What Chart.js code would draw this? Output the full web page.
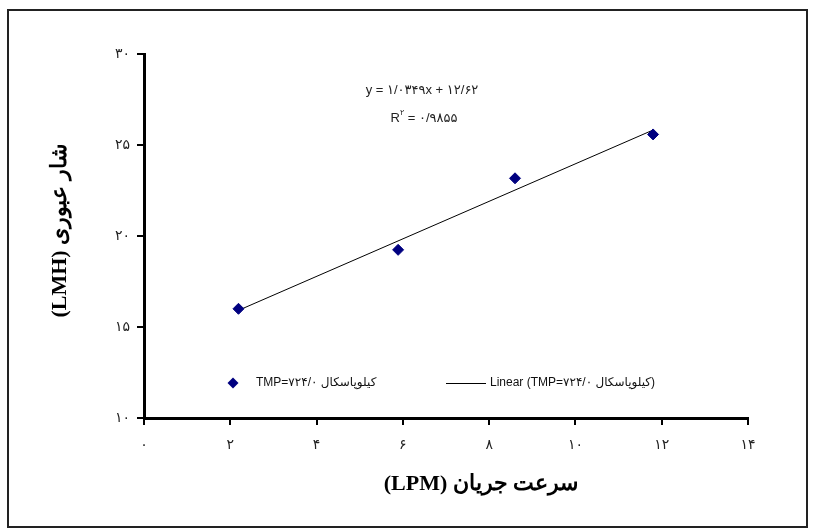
<!DOCTYPE html>
<html>
<head>
<meta charset="utf-8">
<script src="https://cdn.jsdelivr.net/npm/chart.js@4/dist/chart.umd.min.js"></script>
<style>
    html, body { margin: 0; padding: 0; background: #fff; }
    #wrap { width: 815px; height: 529px; position: relative; }
</style>
</head>
<body>
<div id="wrap"><canvas id="fluxChart"></canvas></div>
<script>
// data
const flowRate = [2.19, 5.89, 8.60, 11.80];      // LPM
const flux = [16.0, 19.24, 23.17, 25.58];        // LMH
const xTickLabels = ['۰', '۲', '۴', '۶', '۸', '۱۰', '۱۲', '۱۴'];
const yTickLabels = ['۱۰', '۱۵', '۲۰', '۲۵', '۳۰'];
const xTitle = 'سرعت جریان (LPM)';
const yTitle = 'شار عبوری (LMH)';
const seriesName = 'TMP=۷۲۴/۰ کیلوپاسکال';
const trendName = 'Linear (TMP=۷۲۴/۰ کیلوپاسکال)';
const equationText = 'y = ۱/۰۳۴۹x + ۱۲/۶۲';
const rSquaredText = '۰/۹۸۵۵';

const markerColor = '#000080';

// least squares trend through the points
function linearFit(xs, ys) {
    const n = xs.length;
    const mx = xs.reduce((a, b) => a + b, 0) / n;
    const my = ys.reduce((a, b) => a + b, 0) / n;
    let sxy = 0, sxx = 0;
    xs.forEach((x, i) => {
        sxy += (x - mx) * (ys[i] - my);
        sxx += (x - mx) * (x - mx);
    });
    const slope = sxy / sxx;
    return { slope: slope, intercept: my - slope * mx };
}

const fit = linearFit(flowRate, flux);
const xMin = Math.min(...flowRate);
const xMax = Math.max(...flowRate);
const trendPoints = [
    { x: xMin, y: fit.intercept + fit.slope * xMin },
    { x: xMax, y: fit.intercept + fit.slope * xMax }
];

// frame, equation, legend and axis titles
const decorPlugin = {
    id: 'decor',
    afterDraw(chart) {
        const ctx = chart.ctx;
        ctx.save();

        // outer frame
        ctx.strokeStyle = '#222';
        ctx.lineWidth = 2;
        ctx.strokeRect(8, 10, 799, 517);

        // equation + R²
        ctx.fillStyle = '#222';
        ctx.direction = 'ltr';
        ctx.textBaseline = 'middle';
        ctx.textAlign = 'center';
        ctx.font = '13px "Liberation Sans", "DejaVu Sans", sans-serif';
        ctx.fillText(equationText, 422, 90);

        const rest = ' = ' + rSquaredText;
        const wR = ctx.measureText('R').width;
        const wRest = ctx.measureText(rest).width;
        ctx.font = '8px "Liberation Sans", "DejaVu Sans", sans-serif';
        const wSup = ctx.measureText('۲').width;
        let x0 = 424 - (wR + wSup + wRest) / 2;
        ctx.textAlign = 'left';
        ctx.font = '13px "Liberation Sans", "DejaVu Sans", sans-serif';
        ctx.fillText('R', x0, 118);
        ctx.font = '8px "Liberation Sans", "DejaVu Sans", sans-serif';
        ctx.fillText('۲', x0 + wR, 113);
        ctx.font = '13px "Liberation Sans", "DejaVu Sans", sans-serif';
        ctx.fillText(rest, x0 + wR + wSup, 118);

        // legend
        const ly = 383;
        ctx.fillStyle = markerColor;
        ctx.beginPath();
        ctx.moveTo(233, ly - 5.5);
        ctx.lineTo(238.5, ly);
        ctx.lineTo(233, ly + 5.5);
        ctx.lineTo(227.5, ly);
        ctx.closePath();
        ctx.fill();

        ctx.fillStyle = '#111';
        ctx.font = '12px "Liberation Sans", "DejaVu Sans", sans-serif';
        ctx.fillText(seriesName, 256, ly);

        ctx.strokeStyle = '#000';
        ctx.lineWidth = 1;
        ctx.beginPath();
        ctx.moveTo(446, ly + 0.5);
        ctx.lineTo(486, ly + 0.5);
        ctx.stroke();
        ctx.fillText(trendName, 490, ly);

        // axis titles
        ctx.fillStyle = '#000';
        ctx.font = 'bold 22px "Liberation Serif", "DejaVu Serif", serif';
        ctx.direction = 'rtl';
        ctx.textAlign = 'center';
        ctx.fillText(xTitle, 481, 484);

        ctx.translate(60, 231);
        ctx.rotate(-Math.PI / 2);
        ctx.fillText(yTitle, 0, 0);

        ctx.restore();
    }
};

const ctx = document.getElementById('fluxChart');

new Chart(ctx, {
    type: 'scatter',
    data: {
        datasets: [
            {
                label: seriesName,
                data: flowRate.map((x, i) => ({ x: x, y: flux[i] })),
                pointStyle: 'rectRot',
                pointRadius: 5.5,
                pointHoverRadius: 5.5,
                backgroundColor: markerColor,
                borderColor: markerColor,
                borderWidth: 1,
                order: 0
            },
            {
                type: 'line',
                label: trendName,
                data: trendPoints,
                borderColor: '#000',
                borderWidth: 1,
                pointRadius: 0,
                fill: false,
                tension: 0,
                order: 1
            }
        ]
    },
    options: {
        responsive: true,
        maintainAspectRatio: false,
        animation: false,
        layout: {
            padding: { top: 54, right: 67, left: 0, bottom: 0 }
        },
        plugins: {
            legend: { display: false },
            tooltip: { enabled: false }
        },
        scales: {
            x: {
                type: 'linear',
                min: 0,
                max: 14,
                afterFit: function (scale) { scale.height = 111; },
                ticks: {
                    stepSize: 2,
                    padding: 12,
                    color: '#222',
                    font: { size: 14, family: '"DejaVu Sans", sans-serif' },
                    callback: function (value) { return xTickLabels[value / 2]; }
                },
                grid: {
                    drawOnChartArea: false,
                    drawTicks: true,
                    tickLength: 7,
                    color: '#000',
                    lineWidth: 2
                },
                border: { color: '#000', width: 3 }
            },
            y: {
                type: 'linear',
                min: 10,
                max: 30,
                afterFit: function (scale) { scale.width = 144; },
                ticks: {
                    stepSize: 5,
                    padding: 7,
                    color: '#222',
                    font: { size: 14, family: '"DejaVu Sans", sans-serif' },
                    callback: function (value) { return yTickLabels[(value - 10) / 5]; }
                },
                grid: {
                    drawOnChartArea: false,
                    drawTicks: true,
                    tickLength: 7,
                    color: '#000',
                    lineWidth: 2
                },
                border: { color: '#000', width: 3 }
            }
        }
    },
    plugins: [decorPlugin]
});
</script>
</body>
</html>
